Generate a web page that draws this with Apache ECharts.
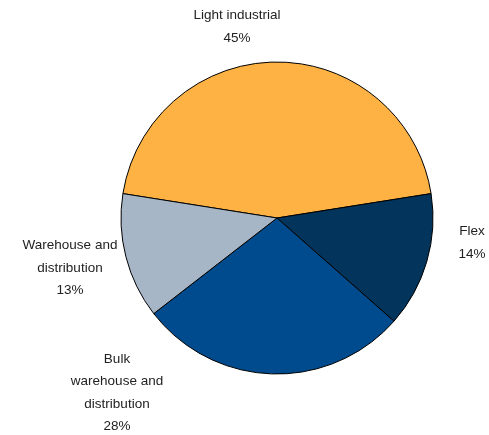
<!DOCTYPE html>
<html><head><meta charset="utf-8">
<script src="https://cdn.jsdelivr.net/npm/echarts@6/dist/echarts.min.js"></script>
<style>html,body{margin:0;padding:0;background:#fff}#c{width:489px;height:435px}</style>
</head><body><div id="c"></div>
<script>
const categories = ['Light industrial', 'Flex', 'Bulk\nwarehouse and\ndistribution', 'Warehouse and\ndistribution'];
const shares = [45, 14, 28, 13];
const colors = ['#FDB243', '#02345C', '#004B8D', '#A7B6C7'];
const labelPos = [[237, 27], [472, 243], [117, 393], [70, 268]];

const chart = echarts.init(document.getElementById('c'), null, {renderer: 'canvas'});
chart.setOption({
  animation: false,
  series: [{
    type: 'pie',
    center: [277, 218],
    radius: 156,
    startAngle: 171,
    clockwise: true,
    avoidLabelOverlap: false,
    data: categories.map((n, i) => ({name: n, value: shares[i], itemStyle: {color: colors[i]}})),
    itemStyle: {borderColor: '#000', borderWidth: 1},
    label: {
      show: true,
      position: 'outside',
      overflow: 'none',
      formatter: p => p.name + '\n' + p.value + '%',
      fontFamily: 'Liberation Sans',
      fontSize: 13.5,
      color: '#222',
      lineHeight: 22.5,
      align: 'center'
    },
    labelLine: {show: false},
    labelLayout: p => {
      const pos = labelPos[p.dataIndex];
      return {x: pos[0], y: pos[1], align: 'center', verticalAlign: 'middle', hideOverlap: false};
    },
    emphasis: {disabled: true}
  }]
});
</script></body></html>
